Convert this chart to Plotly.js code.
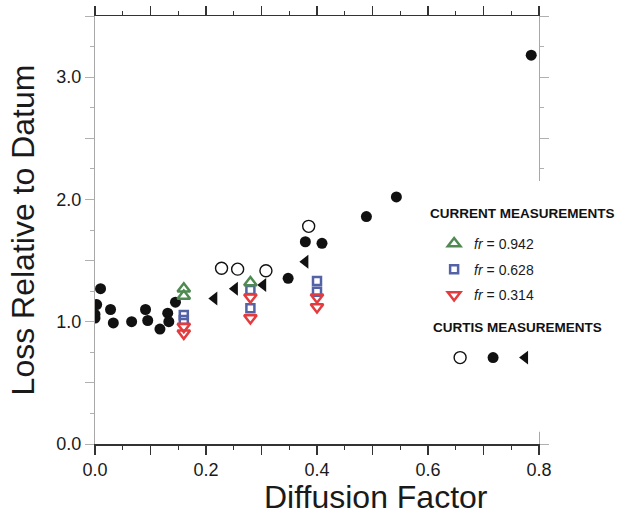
<!DOCTYPE html>
<html>
<head>
<meta charset="utf-8">
<script src="https://cdn.plot.ly/plotly-3.0.1.min.js"></script>
<style>html,body{margin:0;padding:0;background:#fff;}#chart{width:621px;height:518px;}</style>
</head>
<body>
<div id="chart"></div>
<script>
// Curtis measurements
const curtisOpenX = [0.228, 0.257, 0.308, 0.385];
const curtisOpenY = [1.437, 1.43, 1.417, 1.78];
const curtisFilledX = [0.0, 0.0, 0.003, 0.010, 0.028, 0.033, 0.066, 0.091, 0.095, 0.117, 0.131, 0.133, 0.145, 0.348, 0.379, 0.409, 0.489, 0.543, 0.786];
const curtisFilledY = [1.03, 1.06, 1.14, 1.27, 1.10, 0.99, 1.00, 1.10, 1.01, 0.94, 1.07, 1.00, 1.16, 1.355, 1.654, 1.641, 1.86, 2.02, 3.18];
const curtisTriX = [0.215, 0.252, 0.303, 0.379];
const curtisTriY = [1.19, 1.27, 1.30, 1.49];
// Current measurements
const fr942X = [0.16, 0.16, 0.28];
const fr942Y = [1.27, 1.21, 1.32];
const fr628X = [0.16, 0.16, 0.28, 0.28, 0.40, 0.40];
const fr628Y = [1.055, 1.014, 1.26, 1.11, 1.333, 1.245];
const fr314X = [0.16, 0.16, 0.28, 0.28, 0.40, 0.40];
const fr314Y = [0.96, 0.905, 1.20, 1.03, 1.20, 1.12];
const seriesNames = ['<i>fr</i> = 0.942', '<i>fr</i> = 0.628', '<i>fr</i> = 0.314'];
const xTitle = 'Diffusion Factor';
const yTitle = 'Loss Relative to Datum';
const legendTitle1 = 'CURRENT MEASUREMENTS';
const legendTitle2 = 'CURTIS MEASUREMENTS';

const FONT = 'Liberation Sans, Arial, Helvetica, sans-serif';
const GREEN = '#4f8a52', BLUE = '#5463a6', RED = '#e43b3e', BLACK = '#111111';

// plot-area pixel geometry (used only for placing legends/annotations)
const L = 94.5, T = 16, W = 444.5, H = 428;
const px2x = px => (px - L) / W;
const px2y = py => (T + H - py) / H;

const traces = [
  {x: curtisOpenX, y: curtisOpenY, type: 'scatter', mode: 'markers', name: ' ',
   marker: {symbol: 'circle-open', size: 12, color: BLACK, line: {width: 1.4, color: BLACK}}, legend: 'legend2'},
  {x: curtisFilledX, y: curtisFilledY, type: 'scatter', mode: 'markers', name: ' ',
   marker: {symbol: 'circle', size: 11, color: BLACK}, legend: 'legend3'},
  {x: curtisTriX, y: curtisTriY, type: 'scatter', mode: 'markers', name: ' ',
   marker: {symbol: 'triangle-left', size: 12, color: BLACK}, legend: 'legend4'},
  {x: fr628X, y: fr628Y, type: 'scatter', mode: 'markers', name: seriesNames[1], legendgroup: 'b', legendrank: 2,
   marker: {symbol: 'square-open', size: 8, color: BLUE, line: {width: 2.5, color: BLUE}}},
  {x: fr942X, y: fr942Y, type: 'scatter', mode: 'markers', name: seriesNames[0], legendgroup: 'a', legendrank: 1,
   marker: {symbol: 'triangle-up-open', size: 11, color: GREEN, line: {width: 2.5, color: GREEN}}},
  {x: fr314X, y: fr314Y, type: 'scatter', mode: 'markers', name: seriesNames[2], legendgroup: 'c', legendrank: 3,
   marker: {symbol: 'triangle-down-open', size: 11, color: RED, line: {width: 2.5, color: RED}}}
];

function markerLegend(xPx, yPx) {
  return {
    x: px2x(xPx), xanchor: 'left', y: px2y(yPx), yanchor: 'top',
    bgcolor: 'rgba(0,0,0,0)', borderwidth: 0, orientation: 'h',
    font: {size: 14, family: FONT, color: '#1a1a1a'}
  };
}

const layout = {
  width: 621, height: 518,
  margin: {l: L, r: 621 - L - W, t: T, b: 518 - T - H, autoexpand: false},
  paper_bgcolor: '#fff', plot_bgcolor: '#fff',
  font: {family: FONT, color: '#1a1a1a', size: 18},
  showlegend: true,
  xaxis: {
    range: [0, 0.8], dtick: 0.1, tick0: 0, ticklabelstep: 2, tickformat: '.1f',
    showgrid: false, zeroline: false,
    showline: true, linecolor: '#333', linewidth: 1.5, mirror: 'ticks',
    ticks: 'outside', ticklen: 9, tickwidth: 1.5, tickcolor: '#333',
    minor: {dtick: 0.05, ticks: 'outside', ticklen: 4, tickwidth: 1.2, tickcolor: '#333'},
    tickfont: {size: 18, family: FONT, color: '#1a1a1a'}
  },
  yaxis: {
    range: [0, 3.5], dtick: 0.5, tick0: 0, ticklabelstep: 2, tickformat: '.1f',
    showgrid: false, zeroline: false,
    showline: true, linecolor: '#a8a8a8', linewidth: 1.2, mirror: 'ticks',
    ticks: 'outside', ticklen: 9, tickwidth: 1, tickcolor: '#b0b0b0',
    minor: {dtick: 0.25, ticks: 'outside', ticklen: 4, tickwidth: 1, tickcolor: '#b0b0b0'},
    tickfont: {size: 18, family: FONT, color: '#1a1a1a'},
    title: {text: yTitle, font: {size: 32, family: FONT, color: '#1a1a1a'}, standoff: 12}
  },
  shapes: [
    {type: 'rect', layer: 'above', xref: 'paper', x0: 0.985, x1: 1.06, yref: 'y', y0: 0.1, y1: 2.15,
     fillcolor: '#fff', line: {width: 0}}
  ],
  annotations: [
    {text: xTitle, xref: 'paper', yref: 'paper', x: px2x(262), xanchor: 'left',
     y: px2y(497), yanchor: 'middle', showarrow: false,
     font: {size: 32, family: FONT, color: '#1a1a1a'}},
    {text: legendTitle1, xref: 'paper', yref: 'paper', x: px2x(428), xanchor: 'left',
     y: px2y(213), yanchor: 'middle', showarrow: false,
     font: {size: 13.5, family: FONT, weight: 'bold', color: '#111'}},
    {text: legendTitle2, xref: 'paper', yref: 'paper', x: px2x(431), xanchor: 'left',
     y: px2y(327), yanchor: 'middle', showarrow: false,
     font: {size: 13.5, family: FONT, weight: 'bold', color: '#111'}}
  ],
  legend: {
    x: px2x(434), xanchor: 'left', y: px2y(228), yanchor: 'top',
    bgcolor: 'rgba(0,0,0,0)', borderwidth: 0,
    traceorder: 'grouped', tracegroupgap: 4.5,
    font: {size: 14, family: FONT, color: '#1a1a1a'}
  },
  legend2: markerLegend(440, 342),
  legend3: markerLegend(473, 342),
  legend4: markerLegend(505, 342)
};

Plotly.newPlot('chart', traces, layout, {displayModeBar: false, staticPlot: true});
</script>
</body>
</html>
